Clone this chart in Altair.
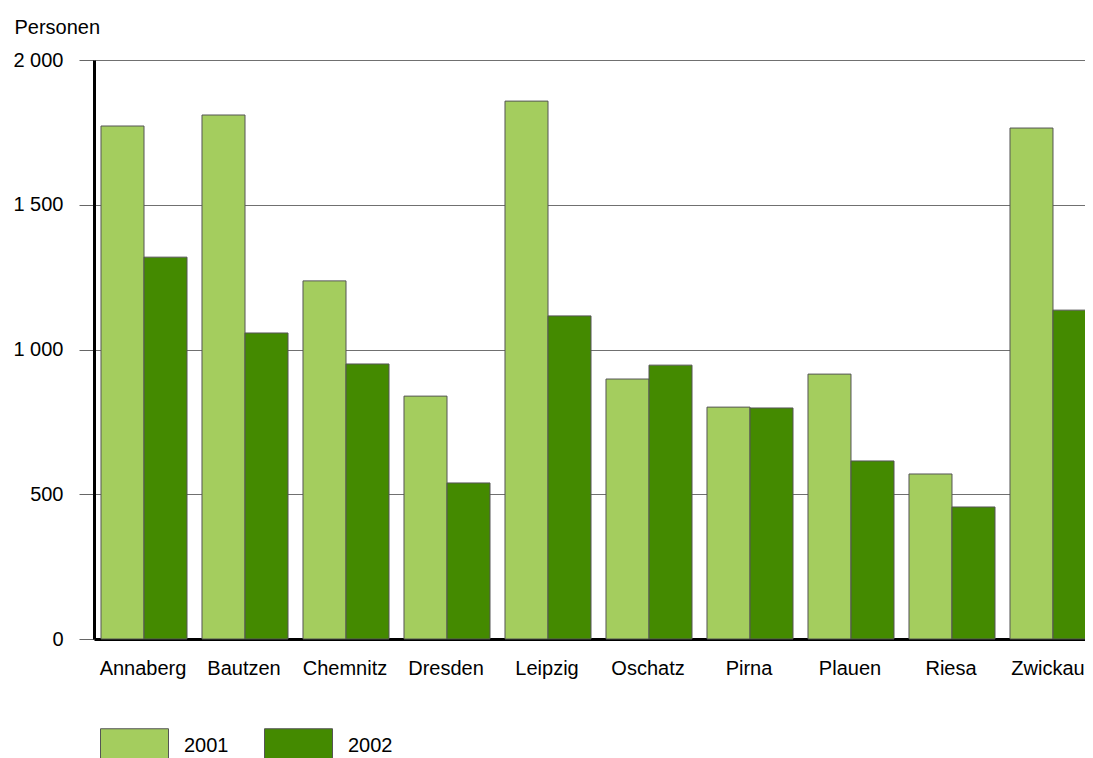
import altair as alt
import pandas as pd

cities = ["Annaberg", "Bautzen", "Chemnitz", "Dresden", "Leipzig",
          "Oschatz", "Pirna", "Plauen", "Riesa", "Zwickau"]
v2001 = [1772, 1810, 1237, 839, 1858, 898, 801, 915, 570, 1765]
v2002 = [1319, 1057, 950, 539, 1116, 946, 798, 615, 456, 1136]
years = ["2001", "2002"]
colors = ["#A4CD5E", "#448A00"]

rows = []
for c, a, b in zip(cities, v2001, v2002):
    rows.append({"Ort": c, "Jahr": years[0], "Personen": a})
    rows.append({"Ort": c, "Jahr": years[1], "Personen": b})
df = pd.DataFrame(rows)

FONT = "Liberation Sans"
FS = 20

chart = alt.Chart(df).mark_bar(stroke="#555555", strokeWidth=1).encode(
    x=alt.X("Ort:N", sort=cities,
            scale=alt.Scale(range=[0, 1009], paddingInner=0.1485, paddingOuter=0.0693),
            axis=alt.Axis(title=None, labelAngle=0, ticks=False, labelPadding=19,
                          labelOffset=alt.ExprRef("datum.value == 'Zwickau' ? -5 : -1"),
                          labelFontSize=FS, labelFont=FONT, labelColor="#000000",
                          domainColor="#000000", domainWidth=3)),
    xOffset=alt.XOffset("Jahr:N", sort=years,
                        scale=alt.Scale(paddingInner=0, paddingOuter=0)),
    y=alt.Y("Personen:Q", scale=alt.Scale(domain=[0, 2000], nice=False),
            axis=alt.Axis(title="Personen", titleAngle=0, titleAlign="left",
                          titleBaseline="alphabetic", titleX=-80, titleY=-27,
                          titleFont=FONT, titleFontSize=FS, titleFontWeight="normal",
                          titleColor="#000000",
                          values=[0, 500, 1000, 1500, 2000],
                          labelExpr="replace(format(datum.value, ','), ',', ' ')",
                          labelFont=FONT, labelFontSize=FS, labelColor="#000000",
                          labelPadding=16, tickSize=15, tickColor="#666666",
                          domainColor="#000000", domainWidth=3,
                          grid=True, gridColor="#707070", gridWidth=1)),
    color=alt.Color("Jahr:N", sort=years,
                    scale=alt.Scale(domain=years, range=colors),
                    legend=alt.Legend(title=None, orient="none", legendX=6, legendY=651,
                                      direction="horizontal",
                                      symbolType="M-1,-0.5H1V0.5H-1Z",
                                      symbolSize=4624, symbolStrokeColor="#555555",
                                      symbolStrokeWidth=1, symbolOpacity=1,
                                      labelFont=FONT, labelFontSize=FS,
                                      labelColor="#000000", labelOffset=15,
                                      columnPadding=33)),
).properties(
    width=991, height=579,
    autosize=alt.AutoSizeParams(type="none"),
    padding={"left": 86, "top": 52, "right": 0, "bottom": 119},
).configure_view(stroke=None)

chart.save("out.html", embed_options={"renderer": "svg", "actions": False})
